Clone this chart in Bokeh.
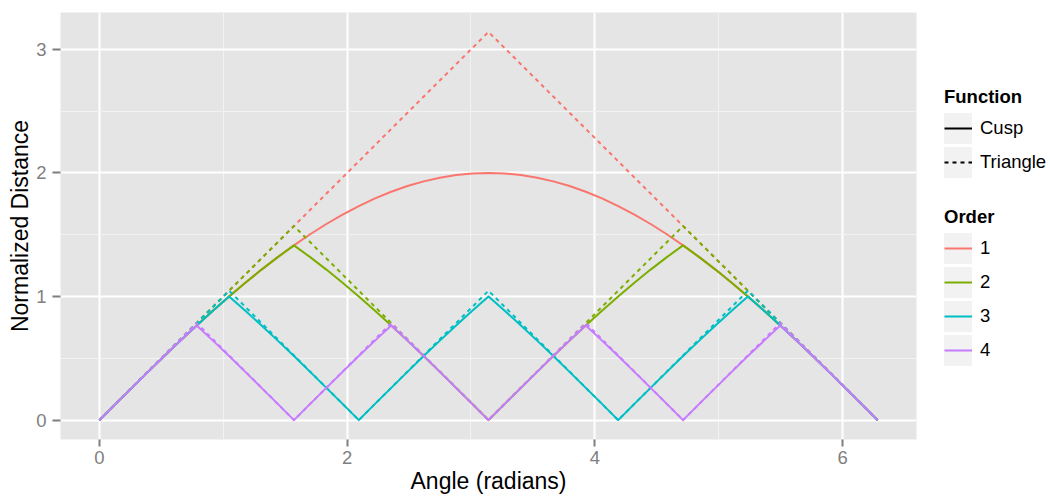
from bokeh.plotting import figure
from bokeh.layouts import row
from bokeh.models import Range1d, FixedTicker, Legend, LegendItem
from bokeh.embed import file_html
from bokeh.resources import INLINE

# ---- data ----
angle = [0.0000, 0.1309, 0.2618, 0.3927, 0.5236, 0.6545, 0.7854, 0.9163, 1.0472, 1.1781,
         1.3090, 1.4399, 1.5708, 1.7017, 1.8326, 1.9635, 2.0944, 2.2253, 2.3562, 2.4871,
         2.6180, 2.7489, 2.8798, 3.0107, 3.1416, 3.2725, 3.4034, 3.5343, 3.6652, 3.7961,
         3.9270, 4.0579, 4.1888, 4.3197, 4.4506, 4.5815, 4.7124, 4.8433, 4.9742, 5.1051,
         5.2360, 5.3669, 5.4978, 5.6287, 5.7596, 5.8905, 6.0214, 6.1523, 6.2832]

cusp_1 = [0.000, 0.131, 0.261, 0.390, 0.518, 0.643, 0.765, 0.885, 1.000, 1.111,
          1.218, 1.319, 1.414, 1.504, 1.587, 1.663, 1.732, 1.794, 1.848, 1.894,
          1.932, 1.962, 1.983, 1.996, 2.000, 1.996, 1.983, 1.962, 1.932, 1.894,
          1.848, 1.794, 1.732, 1.663, 1.587, 1.504, 1.414, 1.319, 1.218, 1.111,
          1.000, 0.885, 0.765, 0.643, 0.518, 0.390, 0.261, 0.131, 0.000]
cusp_2 = [0.000, 0.131, 0.261, 0.390, 0.518, 0.643, 0.765, 0.885, 1.000, 1.111,
          1.218, 1.319, 1.414, 1.319, 1.218, 1.111, 1.000, 0.885, 0.765, 0.643,
          0.518, 0.390, 0.261, 0.131, 0.000, 0.131, 0.261, 0.390, 0.518, 0.643,
          0.765, 0.885, 1.000, 1.111, 1.218, 1.319, 1.414, 1.319, 1.218, 1.111,
          1.000, 0.885, 0.765, 0.643, 0.518, 0.390, 0.261, 0.131, 0.000]
cusp_3 = [0.000, 0.131, 0.261, 0.390, 0.518, 0.643, 0.765, 0.885, 1.000, 0.885,
          0.765, 0.643, 0.518, 0.390, 0.261, 0.131, 0.000, 0.131, 0.261, 0.390,
          0.518, 0.643, 0.765, 0.885, 1.000, 0.885, 0.765, 0.643, 0.518, 0.390,
          0.261, 0.131, 0.000, 0.131, 0.261, 0.390, 0.518, 0.643, 0.765, 0.885,
          1.000, 0.885, 0.765, 0.643, 0.518, 0.390, 0.261, 0.131, 0.000]
cusp_4 = [0.000, 0.131, 0.261, 0.390, 0.518, 0.643, 0.765, 0.643, 0.518, 0.390,
          0.261, 0.131, 0.000, 0.131, 0.261, 0.390, 0.518, 0.643, 0.765, 0.643,
          0.518, 0.390, 0.261, 0.131, 0.000, 0.131, 0.261, 0.390, 0.518, 0.643,
          0.765, 0.643, 0.518, 0.390, 0.261, 0.131, 0.000, 0.131, 0.261, 0.390,
          0.518, 0.643, 0.765, 0.643, 0.518, 0.390, 0.261, 0.131, 0.000]

tri_angle_1 = [0.0000, 3.1416, 6.2832]
tri_1 = [0.0000, 3.1416, 0.0000]
tri_angle_2 = [0.0000, 1.5708, 3.1416, 4.7124, 6.2832]
tri_2 = [0.0000, 1.5708, 0.0000, 1.5708, 0.0000]
tri_angle_3 = [0.0000, 1.0472, 2.0944, 3.1416, 4.1888, 5.2360, 6.2832]
tri_3 = [0.0000, 1.0472, 0.0000, 1.0472, 0.0000, 1.0472, 0.0000]
tri_angle_4 = [0.0000, 0.7854, 1.5708, 2.3562, 3.1416, 3.9270, 4.7124, 5.4978, 6.2832]
tri_4 = [0.0000, 0.7854, 0.0000, 0.7854, 0.0000, 0.7854, 0.0000, 0.7854, 0.0000]

orders = ["1", "2", "3", "4"]
functions = ["Cusp", "Triangle"]
colors = ["#F8766D", "#7CAE00", "#00BFC4", "#C77CFF"]
x_ticks = [0, 2, 4, 6]
x_minor = [1, 3, 5]
y_ticks = [0, 1, 2, 3]
y_minor = [0.5, 1.5, 2.5]

cusps = [cusp_1, cusp_2, cusp_3, cusp_4]
tris = [(tri_angle_1, tri_1), (tri_angle_2, tri_2), (tri_angle_3, tri_3), (tri_angle_4, tri_4)]

FONT = "Liberation Sans"
DASH = "4 4"
NAN = float("nan")

p = figure(width=930, height=496, output_backend="svg", toolbar_location=None,
           x_range=Range1d(-0.3142, 6.5973), y_range=Range1d(-0.1571, 3.2987),
           min_border_left=60, min_border_right=14, min_border_top=12, min_border_bottom=55,
           x_axis_label="Angle (radians)", y_axis_label="Normalized Distance")

p.background_fill_color = "#E5E5E5"
p.border_fill_color = "white"
p.outline_line_color = None

xt = FixedTicker(ticks=x_ticks, minor_ticks=x_minor)
yt = FixedTicker(ticks=y_ticks, minor_ticks=y_minor)
p.xaxis.ticker = xt
p.yaxis.ticker = yt
p.xgrid.ticker = xt
p.ygrid.ticker = yt
for g in (p.xgrid, p.ygrid):
    g.grid_line_color = "white"
    g.grid_line_width = 2
    g.minor_grid_line_color = "#F2F2F2"
    g.minor_grid_line_width = 1

for ax in (p.xaxis[0], p.yaxis[0]):
    ax.axis_line_color = None
    ax.major_tick_line_color = "#7F7F7F"
    ax.major_tick_line_width = 2
    ax.major_tick_in = 0
    ax.minor_tick_line_color = None
    ax.major_label_text_font = FONT
    ax.major_label_text_font_size = "18.5px"
    ax.major_label_text_color = "#7F7F7F"
    ax.axis_label_text_font = FONT
    ax.axis_label_text_font_size = "23px"
    ax.axis_label_text_font_style = "normal"
    ax.axis_label_text_color = "black"

p.xaxis.major_tick_out = 7
p.xaxis.major_label_standoff = 4
p.xaxis.axis_label_standoff = 1
p.yaxis.major_tick_out = 8
p.yaxis.major_label_standoff = 6
p.yaxis.axis_label_standoff = 0

for i in range(4):
    p.line(angle, cusps[i], line_color=colors[i], line_width=2, line_join="round")
    ta, tv = tris[i]
    p.line(ta, tv, line_color=colors[i], line_width=2, line_dash=DASH, line_join="round")

# ---- legend panel ----
lf = figure(width=120, height=496, output_backend="svg", toolbar_location=None,
            x_axis_type=None, y_axis_type=None, x_range=Range1d(0, 1), y_range=Range1d(0, 1),
            min_border=0)
lf.outline_line_color = None
lf.xgrid.visible = False
lf.ygrid.visible = False

key_bg = lf.scatter(x=[NAN], y=[NAN], marker="square", fill_color="#F2F2F2",
                    line_color="#F2F2F2", line_width=20, line_join="miter")
solid_key = lf.line(x=[NAN], y=[NAN], line_color="black", line_width=2)
dash_key = lf.line(x=[NAN], y=[NAN], line_color="black", line_width=2, line_dash=DASH)
color_keys = [lf.line(x=[NAN], y=[NAN], line_color=c, line_width=2) for c in colors]


def make_legend(title, items, loc):
    return Legend(items=items, title=title, location=loc,
                  glyph_width=28, glyph_height=34, label_height=34,
                  spacing=0, padding=0, margin=0,
                  label_standoff=8, title_standoff=3,
                  label_text_font=FONT, label_text_font_size="18.5px",
                  label_text_color="black",
                  title_text_font=FONT, title_text_font_size="18.5px",
                  title_text_font_style="bold", title_text_color="black",
                  border_line_color=None, background_fill_alpha=0)


leg_f = make_legend("Function", [
    LegendItem(label=functions[0], renderers=[key_bg, solid_key]),
    LegendItem(label=functions[1], renderers=[key_bg, dash_key]),
], (14, 260))
leg_o = make_legend("Order", [
    LegendItem(label=orders[i], renderers=[key_bg, color_keys[i]]) for i in range(4)
], (14, 72))
lf.add_layout(leg_f)
lf.add_layout(leg_o)

layout = row(p, lf)
open("out.html", "w").write(file_html(layout, INLINE))
